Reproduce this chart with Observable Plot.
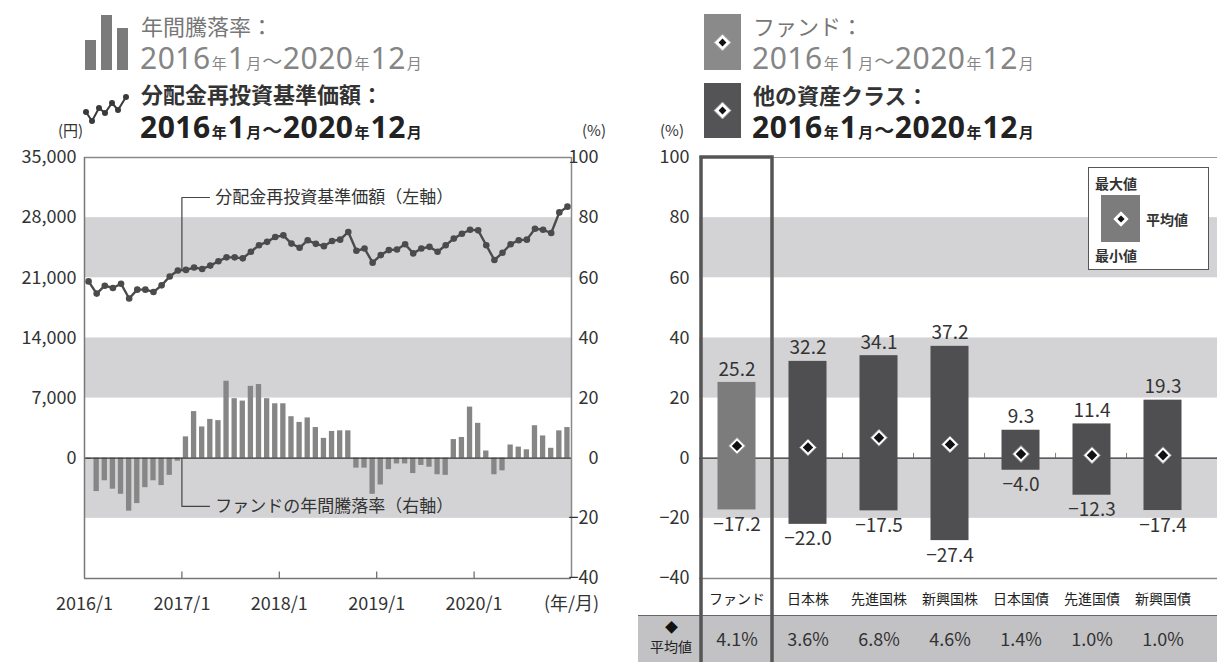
<!DOCTYPE html>
<html><head><meta charset="utf-8">
<script src="https://cdn.jsdelivr.net/npm/d3@7"></script>
<script src="https://cdn.jsdelivr.net/npm/@observablehq/plot@0.6"></script>
<style>
body{margin:0;background:#fff;font-family:"Noto Sans CJK JP",sans-serif;}
#page{position:relative;width:1217px;height:662px;overflow:hidden;background:#fff;}
.abs{position:absolute;white-space:nowrap;line-height:1;font-family:"Noto Sans CJK JP",sans-serif;}
.date{font-family:"Noto Sans","Noto Sans CJK JP",sans-serif;font-size:30px;line-height:0.85;letter-spacing:0.5px;}
.date small{font-family:"Noto Sans CJK JP",sans-serif;font-size:15px;margin:0 1px;letter-spacing:0;}
.date .tl{font-family:"Noto Sans CJK JP",sans-serif;font-size:20px;}
</style></head><body><div id="page"></div>
<script>
// ---------------- DATA ----------------
// Left chart: monthly, 2016/1 .. 2020/12
const annualReturn = [ // 年間騰落率 (%)
  -0.4, -11.1, -7.5, -10.3, -12.0, -17.6, -15.1, -9.8, -7.5, -9.1, -5.7, -1.0,
  7.1, 15.5, 10.4, 12.9, 12.5, 25.6, 19.8, 19.0, 23.9, 24.5, 19.8, 18.1,
  18.1, 13.8, 11.9, 13.4, 10.2, 6.6, 8.9, 9.1, 9.1, -3.3, -3.3, -12.0,
  -8.9, -3.8, -1.9, -1.9, -5.1, -2.4, -3.0, -5.5, -5.7, 6.2, 6.9, 17.0,
  11.6, 2.4, -5.5, -4.2, 4.4, 3.7, 2.8, 10.8, 7.4, 3.3, 9.1, 10.2
];
const nav = [ // 分配金再投資基準価額 (円)
  20580, 19160, 20080, 19810, 20310, 18590, 19620, 19620, 19350, 20120, 21150, 21840,
  21920, 22190, 22030, 22420, 22920, 23380, 23380, 23260, 24030, 24790, 25180, 25750,
  25940, 24980, 24490, 25370, 24950, 24680, 25290, 25440, 26330, 24140, 24410, 22760,
  23640, 24220, 24300, 24910, 23840, 24410, 24600, 24030, 24790, 25560, 26130, 26590,
  26520, 24790, 23070, 23910, 24910, 25370, 25440, 26710, 26590, 26210, 28610, 29280
];
const yearTicks = ["2016/1", "2017/1", "2018/1", "2019/1", "2020/1"];
const xUnit = "(年/月)";
const leftYenTicks = [0, 7000, 14000, 21000, 28000, 35000];
const pctTicks = [-40, -20, 0, 20, 40, 60, 80, 100];
const shadedBands = [[60, 80], [20, 40], [-20, 0]];
const YEN_PER_PCT = 350; // 35,000円 ↔ 100%

// Right chart
const cats = ["ファンド", "日本株", "先進国株", "新興国株", "日本国債", "先進国債", "新興国債"];
const maxV = [25.2, 32.2, 34.1, 37.2, 9.3, 11.4, 19.3];
const minV = [-17.2, -22.0, -17.5, -27.4, -4.0, -12.3, -17.4];
const meanV = [4.1, 3.6, 6.8, 4.6, 1.4, 1.0, 1.0];

// ---------------- BUILD ----------------
const FONT = "'Noto Sans CJK JP', 'Noto Sans', sans-serif";
const page = document.getElementById("page");
function html(str, left, top, css = "", cls = "") {
  const d = document.createElement("div");
  d.className = "abs " + cls;
  d.style.cssText += `left:${left}px;top:${top}px;${css}`;
  d.innerHTML = str;
  page.appendChild(d);
  return d;
}
function dateHTML() {
  return `2016<small>年</small>1<small>月</small><span class="tl">～</span>2020<small>年</small>12<small>月</small>`;
}
function diamondSVG(size, cx, cy) {
  const h = size / 2;
  return `<svg width="${size + 6}" height="${size + 6}" style="position:absolute;left:${cx - h - 3}px;top:${cy - h - 3}px">
    <polygon points="${h + 3},1 ${size + 5},${h + 3} ${h + 3},${size + 5} 1,${h + 3}" fill="#fff" stroke="#999" stroke-width="1"/>
    <polygon points="${h + 3},${h * 0.4 + 3} ${size + 3 - h * 0.4},${h + 3} ${h + 3},${size + 3 - h * 0.4} ${h * 0.4 + 3},${h + 3}" fill="#111"/>
  </svg>`;
}

// ---- top legends (left) ----
html(`<svg width="50" height="60">
  <rect x="1" y="26" width="11" height="30" fill="#7b7b7b"/>
  <rect x="17" y="1" width="11" height="55" fill="#7b7b7b"/>
  <rect x="33" y="14" width="11" height="42" fill="#7b7b7b"/></svg>`, 84, 14);
html("年間騰落率：", 141, 14, "font-size:22px;color:#777;");
html(dateHTML(), 140, 45, "color:#858585;", "date");
html(`<svg width="50" height="40">
  <polyline points="4,18 10,27 17,14 23,19 30,9 36,16 44,3" fill="none" stroke="#3a3a3a" stroke-width="2"/>
  ${[[4,18],[10,27],[17,14],[23,19],[30,9],[36,16],[44,3]].map(p=>`<circle cx="${p[0]}" cy="${p[1]}" r="3" fill="#3a3a3a"/>`).join("")}
  </svg>`, 82, 94);
html("分配金再投資基準価額：", 141, 82, "font-size:22px;color:#333;font-weight:bold;");
html(dateHTML(), 140, 114, "color:#222;font-weight:bold;", "date");

// ---- top legends (right) ----
const sq1 = html("", 704, 14, "width:37px;height:56px;background:#8a8a8a;");
sq1.innerHTML = diamondSVG(13, 18.5, 28);
html("ファンド：", 753, 14, "font-size:22px;color:#777;");
html(dateHTML(), 752, 45, "color:#858585;", "date");
const sq2 = html("", 704, 83, "width:37px;height:55px;background:#545456;");
sq2.innerHTML = diamondSVG(13, 18.5, 27.5);
html("他の資産クラス：", 753, 83, "font-size:22px;color:#333;font-weight:bold;");
html(dateHTML(), 752, 114, "color:#222;font-weight:bold;", "date");

// ---- unit labels ----
html("(円)", 58, 122, "font-size:15px;color:#333;");
html("(%)", 582, 122, "font-size:15px;color:#333;");
html("(%)", 660, 122, "font-size:15px;color:#333;");

// ---------------- LEFT CHART ----------------
const idx = d3.range(annualReturn.length);
const barData = idx.map(i => ({i, v: annualReturn[i]}));
const navData = idx.map(i => ({i, nav: nav[i]}));
const annotations = [
  {text: "分配金再投資基準価額（左軸）", x: 16.1, y: 86.7, from: [12, 62.8], elbow: 15.4},
  {text: "ファンドの年間騰落率（右軸）", x: 16.1, y: -16, from: [12, 0], elbow: 15.4}
];
const leaderPts = annotations.flatMap((a, k) => [
  {k, x: a.from[0], y: a.from[1]}, {k, x: a.from[0], y: a.y}, {k, x: a.elbow, y: a.y}
]);

const left = Plot.plot({
  width: 615, height: 530,
  marginLeft: 84, marginRight: 44, marginTop: 57, marginBottom: 52,
  style: {fontFamily: FONT, fontSize: "18px", color: "#333", background: "transparent", overflow: "visible"},
  x: {domain: [0, 60], axis: null},
  y: {domain: [-40, 100], axis: null},
  marks: [
    Plot.rectY(shadedBands, {y1: d => d[0], y2: d => d[1], fill: "#d3d3d5"}),
    Plot.rectY(barData, {x1: d => d.i, x2: d => d.i + 1, y1: 0, y2: "v", fill: "#868686", insetLeft: 1.4, insetRight: 1.4}),
    Plot.ruleY([0], {stroke: "#333", strokeWidth: 1.2}),
    Plot.ruleY([100], {stroke: "#8a8a8a", strokeWidth: 1.5}),
    Plot.ruleX([60], {stroke: "#8a8a8a", strokeWidth: 1.5}),
    Plot.ruleX([0], {stroke: "#777", strokeWidth: 1.5}),
    Plot.ruleY([-40], {stroke: "#777", strokeWidth: 1.5}),
    Plot.ruleX([12, 24, 36, 48], {y1: -40, y2: -37.8, stroke: "#666", strokeWidth: 1.2}),
    Plot.line(leaderPts, {x: "x", y: "y", z: "k", stroke: "#444", strokeWidth: 1.2}),
    Plot.text(annotations, {x: "x", y: "y", text: "text", textAnchor: "start", fontSize: 17, fill: "#333"}),
    Plot.line(navData, {x: d => d.i + 0.5, y: d => d.nav / YEN_PER_PCT, stroke: "#4b4b4b", strokeWidth: 2.4}),
    Plot.dot(navData, {x: d => d.i + 0.5, y: d => d.nav / YEN_PER_PCT, r: 3.3, fill: "#4b4b4b"}),
    Plot.axisY(leftYenTicks.map(v => v / YEN_PER_PCT), {anchor: "left", label: null, tickSize: 0, tickPadding: 8, tickFormat: d => d3.format(",")(Math.round(d * YEN_PER_PCT))}),
    Plot.axisY(pctTicks, {anchor: "right", label: null, tickSize: 0, tickPadding: 27, textAnchor: "end", tickFormat: d => d3.format("d")(d)}),
    Plot.axisX([0, 12, 24, 36, 48, 60], {anchor: "bottom", label: null, tickSize: 0, tickPadding: 19, tickFormat: d => d === 60 ? xUnit : yearTicks[d / 12]})
  ]
});
left.style.position = "absolute"; left.style.left = "0px"; left.style.top = "100px";
page.appendChild(left);

// ---------------- RIGHT CHART ----------------
// table row background
html("", 638, 615, "width:579px;height:47px;background:#c2c2c5;border-top:1.5px solid #666;");

const cls = cats.map((c, k) => ({cat: c, max: maxV[k], min: minV[k], mean: meanV[k], fund: k === 0}));
const BW = (580 - 79) / cats.length;
const right = Plot.plot({
  width: 597, height: 562,
  marginLeft: 79, marginRight: 0, marginTop: 57, marginBottom: 84,
  style: {fontFamily: FONT, fontSize: "18px", color: "#333", background: "transparent", overflow: "visible"},
  x: {type: "band", domain: cats, range: [79, 580], padding: 0, axis: null},
  y: {domain: [-40, 100], axis: null},
  marks: [
    Plot.rectY(shadedBands, {y1: d => d[0], y2: d => d[1], fill: "#d3d3d5"}),
    Plot.ruleY([100], {stroke: "#9a9a9a", strokeWidth: 1.2}),
    Plot.ruleY([-40], {stroke: "#888", strokeWidth: 1.5}),
    Plot.ruleY([0], {stroke: "#333", strokeWidth: 1.2}),
    Plot.barY(cats.slice(2), {x: d => d, y1: 0, y2: 1.6, fill: "#333", insetLeft: -0.6, insetRight: BW - 0.6}),
    Plot.barY(cls, {x: "cat", y1: "min", y2: "max", fill: d => d.fund ? "#7c7c7c" : "#4f4f51", insetLeft: 16.5, insetRight: 16.5}),
    Plot.dot(cls, {x: "cat", y: "mean", symbol: "diamond2", r: 7.6, fill: "#fff", stroke: "#8c8c8c", strokeWidth: 1}),
    Plot.dot(cls, {x: "cat", y: "mean", symbol: "diamond2", r: 4.7, fill: "#111", stroke: "none"}),
    Plot.text(cls, {x: "cat", y: "max", text: d => d3.format(".1f")(d.max), dy: -13, fontSize: 19, fill: "#333"}),
    Plot.text(cls, {x: "cat", y: "min", text: d => d3.format(".1f")(d.min), dy: 15, fontSize: 19, fill: "#333"}),
    Plot.axisY(pctTicks, {anchor: "left", label: null, tickSize: 0, tickPadding: 10}),
    Plot.text(cls, {x: "cat", y: -40, text: "cat", dy: 21, fontSize: 14, fill: "#222"}),
    Plot.text(cls, {x: "cat", y: -40, text: d => d.mean.toFixed(1) + "%", dy: 62, fontSize: 18, fill: "#333"}),
    Plot.barY([cats[0]], {x: d => d, y1: -40, y2: 100, fill: "none", stroke: "#555", strokeWidth: 3.5, insetBottom: -86})
  ]
});
right.style.position = "absolute"; right.style.left = "620px"; right.style.top = "100px";
page.appendChild(right);

// mean header cell
html("◆", 665, 620, "font-size:13px;color:#111;");
html("平均値", 650, 639, "font-size:14px;color:#222;");

// legend box inside right chart
const lg = html("", 1088, 167, "width:119px;height:101px;border:1.5px solid #555;background:#fff;");
lg.innerHTML = `
  <div class="abs" style="left:6px;top:8px;font-size:14px;font-weight:bold;color:#333">最大値</div>
  <div class="abs" style="left:12px;top:27px;width:39px;height:47px;background:#7c7c7c;">${diamondSVG(12, 19.5, 23.5)}</div>
  <div class="abs" style="left:57px;top:44px;font-size:14px;font-weight:bold;color:#333">平均値</div>
  <div class="abs" style="left:6px;top:80px;font-size:14px;font-weight:bold;color:#333">最小値</div>`;
</script></body></html>
